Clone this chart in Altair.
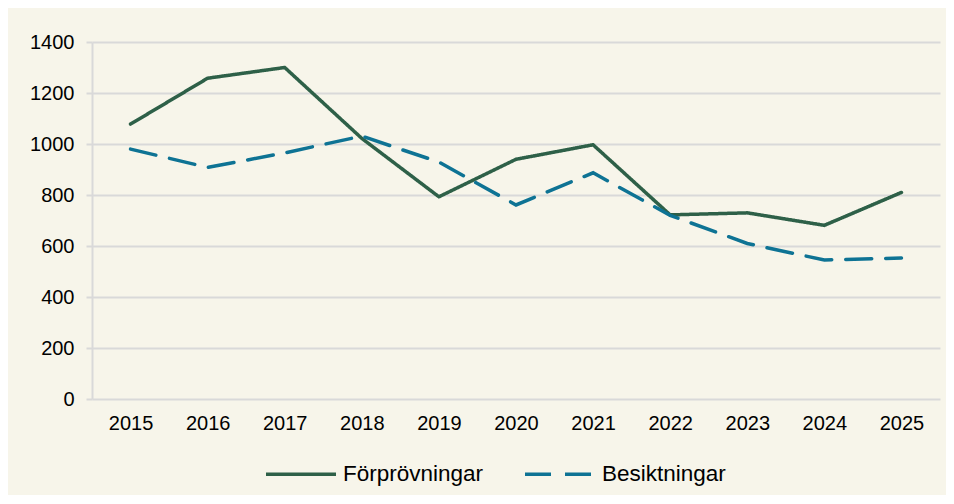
import altair as alt
import pandas as pd

years = ["2015", "2016", "2017", "2018", "2019", "2020", "2021", "2022", "2023", "2024", "2025"]
forprovningar = [1078, 1258, 1300, 1022, 793, 940, 997, 722, 730, 681, 810]
besiktningar = [980, 908, 965, 1031, 929, 761, 887, 720, 610, 545, 553]
series_names = ["Förprövningar", "Besiktningar"]
y_ticks = [0, 200, 400, 600, 800, 1000, 1200, 1400]

rows = []
for y, v in zip(years, forprovningar):
    rows.append({"year": y, "value": v, "series": series_names[0]})
for y, v in zip(years, besiktningar):
    rows.append({"year": y, "value": v, "series": series_names[1]})
df = pd.DataFrame(rows)

FONT = "Liberation Sans"
BG = "#F7F5EA"
GRID = "#D9D9D9"

chart = alt.Chart(df).mark_line(strokeWidth=3.5, strokeCap="round", strokeJoin="miter").encode(
    x=alt.X("year:N", sort=years, title=None,
            scale=alt.Scale(paddingInner=0, paddingOuter=0.5),
            axis=alt.Axis(labelAngle=0, ticks=False, domain=False, grid=False,
                          labelPadding=14, labelFontSize=20, labelColor="#000000", labelFont=FONT)),
    y=alt.Y("value:Q", title=None,
            scale=alt.Scale(domain=[0, 1400], nice=False),
            axis=alt.Axis(values=y_ticks, format="d", tickColor=GRID, tickSize=6, tickWidth=2,
                          domainColor=GRID, domainWidth=2, gridColor=GRID, gridWidth=2,
                          labelPadding=12, labelFontSize=20, labelColor="#000000", labelFont=FONT)),
    color=alt.Color("series:N", sort=series_names, title=None,
                    scale=alt.Scale(domain=series_names, range=["#2E6048", "#0E7394"]),
                    legend=alt.Legend(orient="none", direction="horizontal", legendX=172, legendY=395,
                                      symbolType="stroke", symbolSize=4900, symbolStrokeWidth=3.5,
                                      labelFontSize=22.5, labelFont=FONT, labelColor="#000000",
                                      labelOffset=5, columnPadding=34)),
    strokeDash=alt.StrokeDash("series:N", sort=series_names, title=None,
                              scale=alt.Scale(domain=series_names, range=[[1, 0], [26, 14]]),
                              legend=None),
).properties(
    width=848, height=357,
    background=BG,
    padding={"left": 84, "top": 34, "right": 6, "bottom": 96},
    autosize=alt.AutoSizeParams(type="none"),
).configure_view(stroke=None)

chart.save("out.html", embed_options={"renderer": "svg", "actions": False})
